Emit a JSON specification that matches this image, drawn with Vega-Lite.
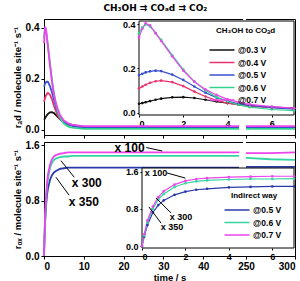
{
"$schema": "https://vega.github.io/schema/vega-lite/v6.json",
"padding": {"left": 11, "right": 2, "top": 3, "bottom": 3},
"title": {"text": "CH₃OH ⇉ COₐd ⇉ CO₂", "fontSize": 9, "font": "DejaVu Sans", "fontWeight": "bold", "anchor": "middle", "offset": 6, "color": "black"},
"datasets": {
"ad": [
{"s":"@0.3 V","t":0,"r":0.04,"g":"a"},{"s":"@0.3 V","t":0.15,"r":0.043,"g":"a"},{"s":"@0.3 V","t":0.3,"r":0.047,"g":"a"},{"s":"@0.3 V","t":0.5,"r":0.052,"g":"a"},{"s":"@0.3 V","t":0.75,"r":0.058,"g":"a"},{"s":"@0.3 V","t":1,"r":0.063,"g":"a"},{"s":"@0.3 V","t":1.5,"r":0.069,"g":"a"},{"s":"@0.3 V","t":2,"r":0.07,"g":"a"},{"s":"@0.3 V","t":2.5,"r":0.066,"g":"a"},{"s":"@0.3 V","t":3,"r":0.058,"g":"a"},{"s":"@0.3 V","t":3.5,"r":0.05,"g":"a"},{"s":"@0.3 V","t":4,"r":0.043,"g":"a"},{"s":"@0.3 V","t":4.5,"r":0.037,"g":"a"},{"s":"@0.3 V","t":5,"r":0.032,"g":"a"},{"s":"@0.3 V","t":6,"r":0.025,"g":"a"},{"s":"@0.3 V","t":7,"r":0.02,"g":"a"},{"s":"@0.3 V","t":10,"r":0.012,"g":"a"},{"s":"@0.3 V","t":20,"r":0.012,"g":"a"},{"s":"@0.3 V","t":30,"r":0.012,"g":"a"},{"s":"@0.3 V","t":40,"r":0.012,"g":"a"},{"s":"@0.3 V","t":49,"r":0.012,"g":"a"},{"s":"@0.3 V","t":250,"r":0.012,"g":"b"},{"s":"@0.3 V","t":275,"r":0.012,"g":"b"},{"s":"@0.3 V","t":300,"r":0.012,"g":"b"},
{"s":"@0.4 V","t":0,"r":0.11,"g":"a"},{"s":"@0.4 V","t":0.15,"r":0.118,"g":"a"},{"s":"@0.4 V","t":0.3,"r":0.126,"g":"a"},{"s":"@0.4 V","t":0.5,"r":0.135,"g":"a"},{"s":"@0.4 V","t":0.75,"r":0.142,"g":"a"},{"s":"@0.4 V","t":1,"r":0.145,"g":"a"},{"s":"@0.4 V","t":1.5,"r":0.138,"g":"a"},{"s":"@0.4 V","t":2,"r":0.12,"g":"a"},{"s":"@0.4 V","t":2.5,"r":0.095,"g":"a"},{"s":"@0.4 V","t":3,"r":0.073,"g":"a"},{"s":"@0.4 V","t":3.5,"r":0.055,"g":"a"},{"s":"@0.4 V","t":4,"r":0.043,"g":"a"},{"s":"@0.4 V","t":4.5,"r":0.035,"g":"a"},{"s":"@0.4 V","t":5,"r":0.028,"g":"a"},{"s":"@0.4 V","t":6,"r":0.022,"g":"a"},{"s":"@0.4 V","t":7,"r":0.018,"g":"a"},{"s":"@0.4 V","t":10,"r":0.01,"g":"a"},{"s":"@0.4 V","t":20,"r":0.01,"g":"a"},{"s":"@0.4 V","t":30,"r":0.01,"g":"a"},{"s":"@0.4 V","t":40,"r":0.01,"g":"a"},{"s":"@0.4 V","t":49,"r":0.01,"g":"a"},{"s":"@0.4 V","t":250,"r":0.01,"g":"b"},{"s":"@0.4 V","t":275,"r":0.01,"g":"b"},{"s":"@0.4 V","t":300,"r":0.01,"g":"b"},
{"s":"@0.5 V","t":0,"r":0.17,"g":"a"},{"s":"@0.5 V","t":0.15,"r":0.176,"g":"a"},{"s":"@0.5 V","t":0.3,"r":0.182,"g":"a"},{"s":"@0.5 V","t":0.5,"r":0.187,"g":"a"},{"s":"@0.5 V","t":0.75,"r":0.19,"g":"a"},{"s":"@0.5 V","t":1,"r":0.188,"g":"a"},{"s":"@0.5 V","t":1.5,"r":0.172,"g":"a"},{"s":"@0.5 V","t":2,"r":0.148,"g":"a"},{"s":"@0.5 V","t":2.5,"r":0.118,"g":"a"},{"s":"@0.5 V","t":3,"r":0.09,"g":"a"},{"s":"@0.5 V","t":3.5,"r":0.068,"g":"a"},{"s":"@0.5 V","t":4,"r":0.052,"g":"a"},{"s":"@0.5 V","t":4.5,"r":0.04,"g":"a"},{"s":"@0.5 V","t":5,"r":0.032,"g":"a"},{"s":"@0.5 V","t":6,"r":0.022,"g":"a"},{"s":"@0.5 V","t":7,"r":0.016,"g":"a"},{"s":"@0.5 V","t":10,"r":0.008,"g":"a"},{"s":"@0.5 V","t":20,"r":0.008,"g":"a"},{"s":"@0.5 V","t":30,"r":0.008,"g":"a"},{"s":"@0.5 V","t":40,"r":0.008,"g":"a"},{"s":"@0.5 V","t":49,"r":0.008,"g":"a"},{"s":"@0.5 V","t":250,"r":0.008,"g":"b"},{"s":"@0.5 V","t":275,"r":0.008,"g":"b"},{"s":"@0.5 V","t":300,"r":0.008,"g":"b"},
{"s":"@0.6 V","t":0,"r":0.36,"g":"a"},{"s":"@0.6 V","t":0.15,"r":0.385,"g":"a"},{"s":"@0.6 V","t":0.3,"r":0.4,"g":"a"},{"s":"@0.6 V","t":0.5,"r":0.39,"g":"a"},{"s":"@0.6 V","t":0.75,"r":0.36,"g":"a"},{"s":"@0.6 V","t":1,"r":0.33,"g":"a"},{"s":"@0.6 V","t":1.5,"r":0.26,"g":"a"},{"s":"@0.6 V","t":2,"r":0.195,"g":"a"},{"s":"@0.6 V","t":2.5,"r":0.14,"g":"a"},{"s":"@0.6 V","t":3,"r":0.1,"g":"a"},{"s":"@0.6 V","t":3.5,"r":0.07,"g":"a"},{"s":"@0.6 V","t":4,"r":0.05,"g":"a"},{"s":"@0.6 V","t":4.5,"r":0.035,"g":"a"},{"s":"@0.6 V","t":5,"r":0.025,"g":"a"},{"s":"@0.6 V","t":6,"r":0.014,"g":"a"},{"s":"@0.6 V","t":7,"r":0.009,"g":"a"},{"s":"@0.6 V","t":10,"r":0.004,"g":"a"},{"s":"@0.6 V","t":20,"r":0.004,"g":"a"},{"s":"@0.6 V","t":30,"r":0.004,"g":"a"},{"s":"@0.6 V","t":40,"r":0.004,"g":"a"},{"s":"@0.6 V","t":49,"r":0.004,"g":"a"},{"s":"@0.6 V","t":250,"r":0.004,"g":"b"},{"s":"@0.6 V","t":275,"r":0.004,"g":"b"},{"s":"@0.6 V","t":300,"r":0.004,"g":"b"},
{"s":"@0.7 V","t":0,"r":0.34,"g":"a"},{"s":"@0.7 V","t":0.15,"r":0.38,"g":"a"},{"s":"@0.7 V","t":0.3,"r":0.405,"g":"a"},{"s":"@0.7 V","t":0.5,"r":0.395,"g":"a"},{"s":"@0.7 V","t":0.75,"r":0.36,"g":"a"},{"s":"@0.7 V","t":1,"r":0.325,"g":"a"},{"s":"@0.7 V","t":1.5,"r":0.255,"g":"a"},{"s":"@0.7 V","t":2,"r":0.19,"g":"a"},{"s":"@0.7 V","t":2.5,"r":0.14,"g":"a"},{"s":"@0.7 V","t":3,"r":0.105,"g":"a"},{"s":"@0.7 V","t":3.5,"r":0.08,"g":"a"},{"s":"@0.7 V","t":4,"r":0.06,"g":"a"},{"s":"@0.7 V","t":4.5,"r":0.047,"g":"a"},{"s":"@0.7 V","t":5,"r":0.037,"g":"a"},{"s":"@0.7 V","t":6,"r":0.027,"g":"a"},{"s":"@0.7 V","t":7,"r":0.02,"g":"a"},{"s":"@0.7 V","t":10,"r":0.015,"g":"a"},{"s":"@0.7 V","t":20,"r":0.015,"g":"a"},{"s":"@0.7 V","t":30,"r":0.015,"g":"a"},{"s":"@0.7 V","t":40,"r":0.015,"g":"a"},{"s":"@0.7 V","t":49,"r":0.015,"g":"a"},{"s":"@0.7 V","t":250,"r":0.015,"g":"b"},{"s":"@0.7 V","t":275,"r":0.015,"g":"b"},{"s":"@0.7 V","t":300,"r":0.015,"g":"b"}
],
"ox": [
{"s":"@0.5 V","t":0,"r":0,"g":"a"},{"s":"@0.5 V","t":0.1,"r":0.2,"g":"a"},{"s":"@0.5 V","t":0.25,"r":0.45,"g":"a"},{"s":"@0.5 V","t":0.5,"r":0.72,"g":"a"},{"s":"@0.5 V","t":0.75,"r":0.88,"g":"a"},{"s":"@0.5 V","t":1,"r":0.98,"g":"a"},{"s":"@0.5 V","t":1.5,"r":1.1,"g":"a"},{"s":"@0.5 V","t":2,"r":1.17,"g":"a"},{"s":"@0.5 V","t":2.5,"r":1.21,"g":"a"},{"s":"@0.5 V","t":3,"r":1.23,"g":"a"},{"s":"@0.5 V","t":4,"r":1.26,"g":"a"},{"s":"@0.5 V","t":5,"r":1.27,"g":"a"},{"s":"@0.5 V","t":6,"r":1.28,"g":"a"},{"s":"@0.5 V","t":7,"r":1.28,"g":"a"},{"s":"@0.5 V","t":10,"r":1.28,"g":"a"},{"s":"@0.5 V","t":20,"r":1.28,"g":"a"},{"s":"@0.5 V","t":30,"r":1.28,"g":"a"},{"s":"@0.5 V","t":40,"r":1.28,"g":"a"},{"s":"@0.5 V","t":49,"r":1.28,"g":"a"},{"s":"@0.5 V","t":250,"r":1.29,"g":"b"},{"s":"@0.5 V","t":275,"r":1.29,"g":"b"},{"s":"@0.5 V","t":300,"r":1.29,"g":"b"},
{"s":"@0.6 V","t":0,"r":0,"g":"a"},{"s":"@0.6 V","t":0.1,"r":0.22,"g":"a"},{"s":"@0.6 V","t":0.25,"r":0.5,"g":"a"},{"s":"@0.6 V","t":0.5,"r":0.8,"g":"a"},{"s":"@0.6 V","t":0.75,"r":1.0,"g":"a"},{"s":"@0.6 V","t":1,"r":1.12,"g":"a"},{"s":"@0.6 V","t":1.5,"r":1.27,"g":"a"},{"s":"@0.6 V","t":2,"r":1.35,"g":"a"},{"s":"@0.6 V","t":2.5,"r":1.39,"g":"a"},{"s":"@0.6 V","t":3,"r":1.41,"g":"a"},{"s":"@0.6 V","t":4,"r":1.43,"g":"a"},{"s":"@0.6 V","t":5,"r":1.44,"g":"a"},{"s":"@0.6 V","t":6,"r":1.44,"g":"a"},{"s":"@0.6 V","t":7,"r":1.45,"g":"a"},{"s":"@0.6 V","t":10,"r":1.45,"g":"a"},{"s":"@0.6 V","t":20,"r":1.45,"g":"a"},{"s":"@0.6 V","t":30,"r":1.45,"g":"a"},{"s":"@0.6 V","t":40,"r":1.45,"g":"a"},{"s":"@0.6 V","t":49,"r":1.45,"g":"a"},{"s":"@0.6 V","t":250,"r":1.42,"g":"b"},{"s":"@0.6 V","t":275,"r":1.4,"g":"b"},{"s":"@0.6 V","t":300,"r":1.39,"g":"b"},
{"s":"@0.7 V","t":0,"r":0,"g":"a"},{"s":"@0.7 V","t":0.1,"r":0.25,"g":"a"},{"s":"@0.7 V","t":0.25,"r":0.55,"g":"a"},{"s":"@0.7 V","t":0.5,"r":0.85,"g":"a"},{"s":"@0.7 V","t":0.75,"r":1.05,"g":"a"},{"s":"@0.7 V","t":1,"r":1.18,"g":"a"},{"s":"@0.7 V","t":1.5,"r":1.32,"g":"a"},{"s":"@0.7 V","t":2,"r":1.4,"g":"a"},{"s":"@0.7 V","t":2.5,"r":1.44,"g":"a"},{"s":"@0.7 V","t":3,"r":1.46,"g":"a"},{"s":"@0.7 V","t":4,"r":1.48,"g":"a"},{"s":"@0.7 V","t":5,"r":1.49,"g":"a"},{"s":"@0.7 V","t":6,"r":1.5,"g":"a"},{"s":"@0.7 V","t":7,"r":1.5,"g":"a"},{"s":"@0.7 V","t":10,"r":1.5,"g":"a"},{"s":"@0.7 V","t":20,"r":1.5,"g":"a"},{"s":"@0.7 V","t":30,"r":1.5,"g":"a"},{"s":"@0.7 V","t":40,"r":1.5,"g":"a"},{"s":"@0.7 V","t":49,"r":1.5,"g":"a"},{"s":"@0.7 V","t":250,"r":1.49,"g":"b"},{"s":"@0.7 V","t":275,"r":1.49,"g":"b"},{"s":"@0.7 V","t":300,"r":1.5,"g":"b"}
]
},
"vconcat": [
{
"width": 251, "height": 116,
"layer": [
 {"layer": [
  {"data": {"name": "ad"}, "mark": {"type": "line", "strokeWidth": 1.8},
   "encoding": {
    "x": {"field": "t", "type": "quantitative", "scale": {"domain": [0, 50, 250, 300], "range": [0, 199, 202, 251], "nice": false, "zero": false},
          "axis": {"values": [0, 5, 10, 15, 20, 25, 30, 35, 40, 45, 250, 275, 300], "labels": false, "title": null}},
    "y": {"field": "r", "type": "quantitative", "scale": {"domain": [-0.02, 0.435], "nice": false, "zero": false},
          "axis": {"values": [0, 0.1, 0.2, 0.3, 0.4], "format": ".1f", "title": "rₐd / molecule site⁻¹ s⁻¹"}},
    "color": {"field": "s", "type": "nominal",
              "scale": {"domain": ["@0.3 V", "@0.4 V", "@0.5 V", "@0.6 V", "@0.7 V"], "range": ["#111111", "#e8336e", "#3a4fd0", "#2fd48a", "#ee44ee"]},
              "legend": {"orient": "none", "legendX": 172, "legendY": 8, "title": "CH₃OH to COₐd", "titleFontSize": 8, "titleFontWeight": "bold", "titleColor": "black", "labelFontSize": 8.5, "labelFontWeight": "bold", "labelColor": "black", "symbolType": "M-2.5,0H2.5", "symbolSize": 100, "symbolStrokeWidth": 1.5, "labelOffset": 10, "rowPadding": 1.5, "titlePadding": 9}},
    "detail": {"field": "g", "type": "nominal"}
   }},
  {"data": {"values": [{}]}, "mark": {"type": "rect", "fill": "white"},
   "encoding": {"x": {"datum": 50, "type": "quantitative"}, "x2": {"datum": 250}, "y": {"datum": -0.02, "type": "quantitative"}, "y2": {"datum": 0.435}}}
 ]},
 {"layer": [
  {"data": {"values": [{}]}, "mark": {"type": "rect", "fill": "white", "stroke": "black", "strokeWidth": 1},
   "encoding": {
    "x": {"datum": 0, "type": "quantitative", "scale": {"domain": [0, 7], "range": [95, 250], "nice": false, "zero": false},
          "axis": {"orient": "bottom", "offset": -20, "values": [0, 2, 4, 6], "title": null, "domain": false, "labelFontSize": 9, "tickSize": 2}},
    "x2": {"datum": 7},
    "y": {"datum": -0.011, "type": "quantitative", "scale": {"domain": [-0.011, 0.415], "range": [96, 2], "nice": false, "zero": false},
          "axis": {"orient": "left", "offset": -95, "values": [0, 0.1, 0.2, 0.3, 0.4], "format": ".1f", "title": null, "domain": false, "labelFontSize": 9, "tickSize": 2}},
    "y2": {"datum": 0.415}}},
  {"data": {"name": "ad"}, "transform": [{"filter": "datum.t <= 7"}],
   "mark": {"type": "line", "strokeWidth": 1.2, "point": {"filled": true, "size": 7}},
   "encoding": {"x": {"field": "t", "type": "quantitative"}, "y": {"field": "r", "type": "quantitative"}, "color": {"field": "s", "type": "nominal"}}}
 ]}
],
"resolve": {"scale": {"x": "independent", "y": "independent"}}
},
{
"width": 251, "height": 114,
"layer": [
 {"layer": [
  {"data": {"name": "ox"}, "mark": {"type": "line", "strokeWidth": 1.8},
   "encoding": {
    "x": {"field": "t", "type": "quantitative", "scale": {"domain": [0, 50, 250, 300], "range": [0, 199, 202, 251], "nice": false, "zero": false},
          "axis": {"values": [0, 10, 20, 30, 40, 250, 300], "title": "time / s", "titlePadding": 1}},
    "y": {"field": "r", "type": "quantitative", "scale": {"domain": [0, 1.65], "nice": false, "zero": false},
          "axis": {"values": [0, 0.4, 0.8, 1.2, 1.6], "format": ".1f", "title": "rₒₓ / molecule site⁻¹ s⁻¹"}},
    "color": {"field": "s", "type": "nominal",
              "scale": {"domain": ["@0.5 V", "@0.6 V", "@0.7 V"], "range": ["#2a3aa8", "#33d6a0", "#ee44ee"]},
              "legend": {"orient": "none", "legendX": 187, "legendY": 50, "title": "Indirect way", "titleFontSize": 8, "titleFontWeight": "bold", "titleColor": "black", "labelFontSize": 8.5, "labelFontWeight": "bold", "labelColor": "black", "symbolType": "M-2.5,0H2.5", "symbolSize": 100, "symbolStrokeWidth": 1.5, "labelOffset": 10, "rowPadding": 1.5, "titlePadding": 4}},
    "detail": {"field": "g", "type": "nominal"}
   }},
  {"data": {"values": [{}]}, "mark": {"type": "rect", "fill": "white"},
   "encoding": {"x": {"datum": 50, "type": "quantitative"}, "x2": {"datum": 250}, "y": {"datum": 0, "type": "quantitative"}, "y2": {"datum": 1.65}}},
  {"data": {"values": [{"label": "x 100", "t": 21.5, "r": 1.57}, {"label": "x 300", "t": 10.75, "r": 1.056}, {"label": "x 350", "t": 10, "r": 0.78}]},
   "mark": {"type": "text", "fontSize": 12, "fontWeight": "bold", "align": "center", "baseline": "middle"},
   "encoding": {"x": {"field": "t", "type": "quantitative"}, "y": {"field": "r", "type": "quantitative"}, "text": {"field": "label"}}},
  {"data": {"values": [{"t": 25.7, "r": 1.57, "t2": 29.7, "r2": 1.52}, {"t": 7.6, "r": 1.14, "t2": 4.25, "r2": 1.38}, {"t": 6.3, "r": 0.88, "t2": 3, "r2": 1.14}]},
   "mark": {"type": "rule", "strokeWidth": 1, "color": "black"},
   "encoding": {"x": {"field": "t", "type": "quantitative"}, "y": {"field": "r", "type": "quantitative"}, "x2": {"field": "t2"}, "y2": {"field": "r2"}}}
 ]},
 {"layer": [
  {"data": {"values": [{}]}, "mark": {"type": "rect", "fill": "white", "stroke": "black", "strokeWidth": 1},
   "encoding": {
    "x": {"datum": 0, "type": "quantitative", "scale": {"domain": [0, 7], "range": [98, 250], "nice": false, "zero": false},
          "axis": {"orient": "bottom", "offset": -8, "values": [0, 2, 4, 6], "title": null, "domain": false, "labelFontSize": 9, "tickSize": 2}},
    "x2": {"datum": 7},
    "y": {"datum": -0.043, "type": "quantitative", "scale": {"domain": [-0.043, 1.677], "range": [106, 26], "nice": false, "zero": false},
          "axis": {"orient": "left", "offset": -98, "values": [0, 0.4, 0.8, 1.2, 1.6], "format": ".1f", "title": null, "domain": false, "labelFontSize": 9, "tickSize": 2}},
    "y2": {"datum": 1.677}}},
  {"data": {"name": "ox"}, "transform": [{"filter": "datum.t <= 7"}],
   "mark": {"type": "line", "strokeWidth": 1.2, "point": {"filled": true, "size": 7}},
   "encoding": {"x": {"field": "t", "type": "quantitative"}, "y": {"field": "r", "type": "quantitative"}, "color": {"field": "s", "type": "nominal"}}},
  {"data": {"values": [{"label": "x 100", "t": 0.65, "r": 1.57}, {"label": "x 300", "t": 1.8, "r": 0.62}, {"label": "x 350", "t": 1.38, "r": 0.41}]},
   "mark": {"type": "text", "fontSize": 9, "fontWeight": "bold", "align": "center", "baseline": "middle"},
   "encoding": {"x": {"field": "t", "type": "quantitative"}, "y": {"field": "r", "type": "quantitative"}, "text": {"field": "label"}}},
  {"data": {"values": [{"t": 1.15, "r": 1.57, "t2": 2.0, "r2": 1.46}, {"t": 1.34, "r": 0.71, "t2": 0.65, "r2": 1.03}, {"t": 0.88, "r": 0.49, "t2": 0.32, "r2": 0.84}]},
   "mark": {"type": "rule", "strokeWidth": 1, "color": "black"},
   "encoding": {"x": {"field": "t", "type": "quantitative"}, "y": {"field": "r", "type": "quantitative"}, "x2": {"field": "t2"}, "y2": {"field": "r2"}}}
 ]}
],
"resolve": {"scale": {"x": "independent", "y": "independent"}}
}
],
"resolve": {"scale": {"color": "independent"}},
"config": {
 "view": {"stroke": "black", "strokeWidth": 1},
 "font": "Liberation Sans",
 "concat": {"spacing": 0},
 "axis": {"labelFont": "Liberation Sans", "labelFontSize": 10, "labelFontWeight": "bold", "labelColor": "black", "domainColor": "black", "tickColor": "black", "tickSize": 3, "titleFont": "Liberation Sans", "titleFontSize": 9.5, "titleFontWeight": "bold", "titleColor": "black", "grid": false, "labelPadding": 2, "titlePadding": 3},
 "legend": {"labelFont": "Liberation Sans", "titleFont": "Liberation Sans"},
 "text": {"font": "Liberation Sans", "color": "black"}
}
}
